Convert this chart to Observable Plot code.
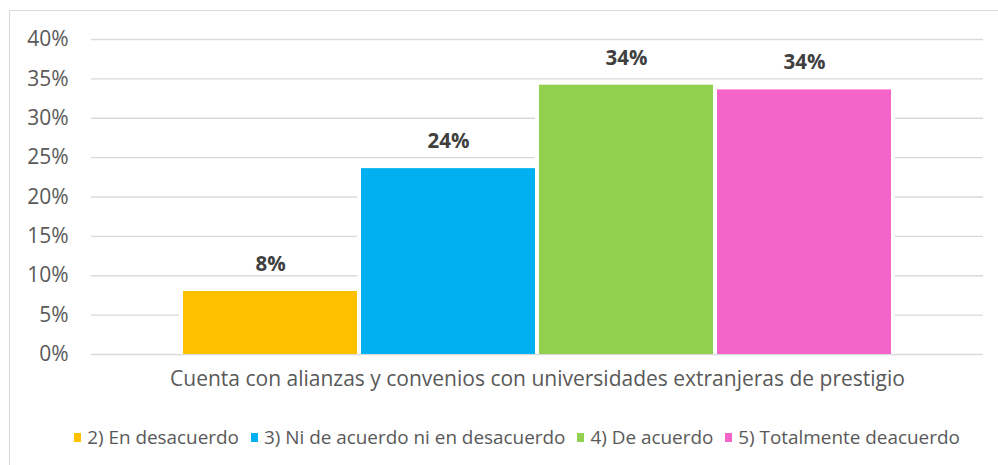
<!DOCTYPE html>
<html>
<head>
<meta charset="utf-8">
<script src="https://cdn.jsdelivr.net/npm/d3@7"></script>
<script src="https://cdn.jsdelivr.net/npm/@observablehq/plot@0.6"></script>
<style>
  html, body { margin: 0; padding: 0; background: #fff; }
  body { width: 998px; height: 465px; position: relative; overflow: hidden; font-family: "Open Sans", sans-serif; }
  #chart { position: absolute; left: 0; top: 0; }
  #frame { position: absolute; left: 9px; top: 10px; width: 1010px; height: 480px; border: 1px solid #d9d9d9; box-sizing: border-box; pointer-events: none; }
  #legend { position: absolute; left: 18px; width: 998px; top: 424px; display: flex; justify-content: center; align-items: center; font-size: 18.9px; color: #595959; white-space: nowrap; }
  #legend .item { display: flex; align-items: center; margin: 0 6px; }
  #legend .sw { width: 7px; height: 9px; margin-right: 6px; display: inline-block; }
</style>
</head>
<body>
<div id="chart"></div>
<div id="legend"></div>
<div id="frame"></div>
<script>
const categoria = "Cuenta con alianzas y convenios con universidades extranjeras de prestigio";
const series = ["2) En desacuerdo", "3) Ni de acuerdo ni en desacuerdo", "4) De acuerdo", "5) Totalmente deacuerdo"];
const valores = [0.080, 0.236, 0.342, 0.336];
const colores = ["#FFC000", "#00B0F0", "#92D050", "#F564C8"];
const yTicks = [0, 0.05, 0.10, 0.15, 0.20, 0.25, 0.30, 0.35, 0.40];

const data = series.map((s, i) => ({cat: categoria, serie: s, valor: valores[i]}));
const pct = d3.format(".0%");

const chart = Plot.plot({
  width: 998,
  height: 410,
  marginLeft: 91,
  marginRight: 15,
  marginTop: 39,
  marginBottom: 56,
  style: {fontFamily: "Open Sans", fontSize: "21px", color: "#595959", background: "transparent", overflow: "visible"},
  y: {domain: [0, 0.4], ticks: yTicks, tickFormat: pct, label: null, tickSize: 0, tickPadding: 23},
  x: {domain: series, paddingInner: 0, paddingOuter: 0.5056, axis: null},
  fx: {domain: [categoria], paddingInner: 0, paddingOuter: 0, label: null, tickSize: 0, tickPadding: 17, fontSize: 19.4},
  color: {domain: series, range: colores},
  marks: [
    Plot.gridY(yTicks.filter(t => t > 0), {stroke: "#d9d9d9", strokeOpacity: 1, strokeWidth: 1.3}),
    Plot.ruleY([0], {stroke: "#d9d9d9", strokeWidth: 1.3}),
    Plot.barY(data, {fx: "cat", x: "serie", y: "valor", fill: "white", insetLeft: -2, insetRight: -2}),
    Plot.barY(data, {fx: "cat", x: "serie", y: "valor", fill: "serie", insetLeft: 2, insetRight: 2}),
    Plot.text(data, {fx: "cat", x: "serie", y: "valor", text: d => pct(d.valor), dy: -27, fontWeight: "bold", fontSize: 20.5, fill: "#404040"})
  ]
});
document.getElementById("chart").appendChild(chart);

const legend = document.getElementById("legend");
series.forEach((s, i) => {
  const item = document.createElement("span");
  item.className = "item";
  const sw = document.createElement("span");
  sw.className = "sw";
  sw.style.background = colores[i];
  item.appendChild(sw);
  item.appendChild(document.createTextNode(s));
  legend.appendChild(item);
});
</script>
</body>
</html>
